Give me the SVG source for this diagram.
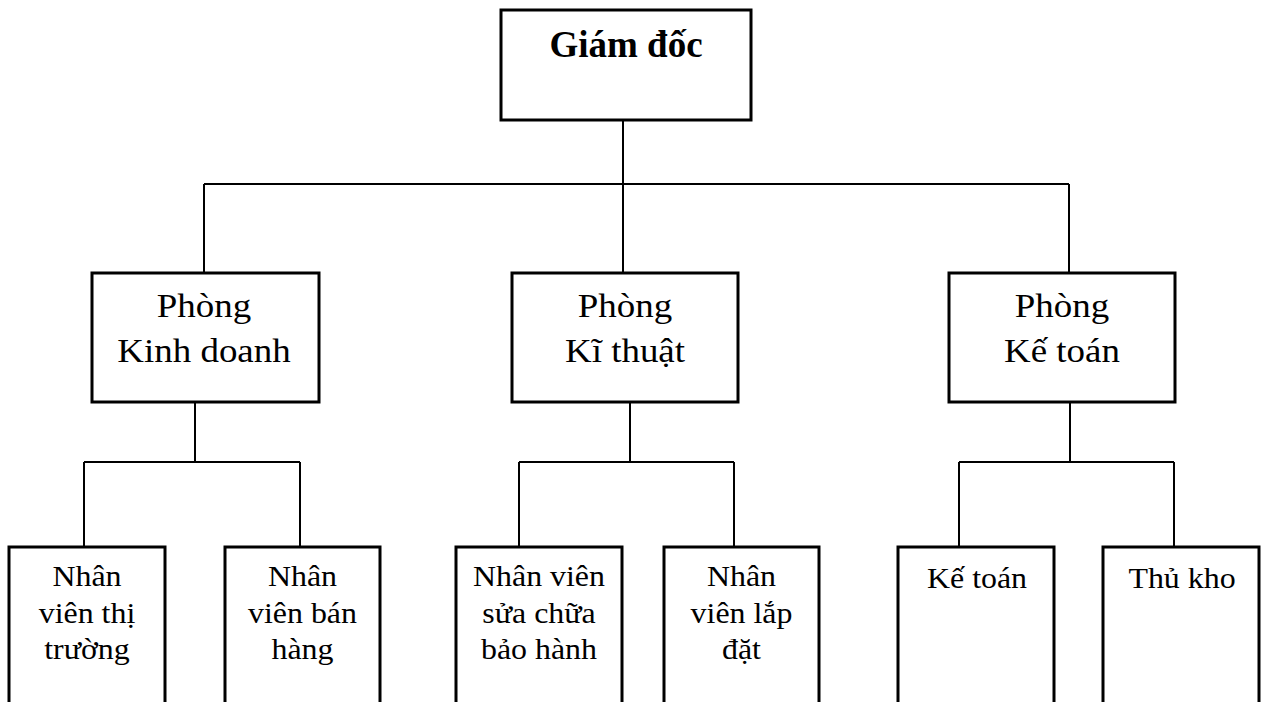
<svg xmlns="http://www.w3.org/2000/svg" width="1264" height="702" viewBox="0 0 1264 702">
<style>
.box{fill:#fff;stroke:#000;stroke-width:3}
.ln{fill:none;stroke:#000;stroke-width:2}
text{font-family:"Liberation Serif","Times New Roman",serif;fill:#000;text-anchor:middle}
.t0{font-size:37px;font-weight:bold}
.t1{font-size:33px}
.t2{font-size:29px}
</style>
<rect width="1264" height="702" fill="#fff"/>
<g id="connectors">
<path class="ln" d="M623,120V184M204,184H1069M204,184V273M623,184V273M1069,184V273"/>
<path class="ln" d="M195,402V462M84,462H300M84,462V547M300,462V547"/>
<path class="ln" d="M630,402V462M519,462H734M519,462V547M734,462V547"/>
<path class="ln" d="M1070,402V462M959,462H1174M959,462V547M1174,462V547"/>
</g>
<g id="giam-doc">
<rect class="box" x="501" y="10" width="250" height="110"/>
<text class="t0" x="626" y="57">Giám đốc</text>
</g>
<g id="phong-kinh-doanh">
<rect class="box" x="92" y="273" width="227" height="129"/>
<text class="t1" transform="translate(204,317) scale(1.12,1)">Phòng</text>
<text class="t1" transform="translate(204,362) scale(1.12,1)">Kinh doanh</text>
</g>
<g id="phong-ki-thuat">
<rect class="box" x="512" y="273" width="226" height="129"/>
<text class="t1" transform="translate(625,317) scale(1.12,1)">Phòng</text>
<text class="t1" transform="translate(625,362) scale(1.12,1)">Kĩ thuật</text>
</g>
<g id="phong-ke-toan">
<rect class="box" x="949" y="273" width="226" height="129"/>
<text class="t1" transform="translate(1062,317) scale(1.12,1)">Phòng</text>
<text class="t1" transform="translate(1062,362) scale(1.12,1)">Kế toán</text>
</g>
<g id="nv-thi-truong">
<rect class="box" x="9" y="547" width="156" height="170"/>
<text class="t2" transform="translate(87,586) scale(1.1,1)">Nhân</text>
<text class="t2" transform="translate(87,622.5) scale(1.1,1)">viên thị</text>
<text class="t2" transform="translate(87,659) scale(1.1,1)">trường</text>
</g>
<g id="nv-ban-hang">
<rect class="box" x="225" y="547" width="155" height="170"/>
<text class="t2" transform="translate(302.5,586) scale(1.1,1)">Nhân</text>
<text class="t2" transform="translate(302.5,622.5) scale(1.1,1)">viên bán</text>
<text class="t2" transform="translate(302.5,659) scale(1.1,1)">hàng</text>
</g>
<g id="nv-sua-chua">
<rect class="box" x="456" y="547" width="166" height="170"/>
<text class="t2" transform="translate(539,586) scale(1.1,1)">Nhân viên</text>
<text class="t2" transform="translate(539,622.5) scale(1.1,1)">sửa chữa</text>
<text class="t2" transform="translate(539,659) scale(1.1,1)">bảo hành</text>
</g>
<g id="nv-lap-dat">
<rect class="box" x="664" y="547" width="155" height="170"/>
<text class="t2" transform="translate(741.5,586) scale(1.1,1)">Nhân</text>
<text class="t2" transform="translate(741.5,622.5) scale(1.1,1)">viên lắp</text>
<text class="t2" transform="translate(741.5,659) scale(1.1,1)">đặt</text>
</g>
<g id="ke-toan">
<rect class="box" x="898" y="547" width="156" height="170"/>
<text class="t2" transform="translate(977,588) scale(1.1,1)">Kế toán</text>
</g>
<g id="thu-kho">
<rect class="box" x="1103" y="547" width="156" height="170"/>
<text class="t2" transform="translate(1182,588) scale(1.1,1)">Thủ kho</text>
</g>
</svg>
